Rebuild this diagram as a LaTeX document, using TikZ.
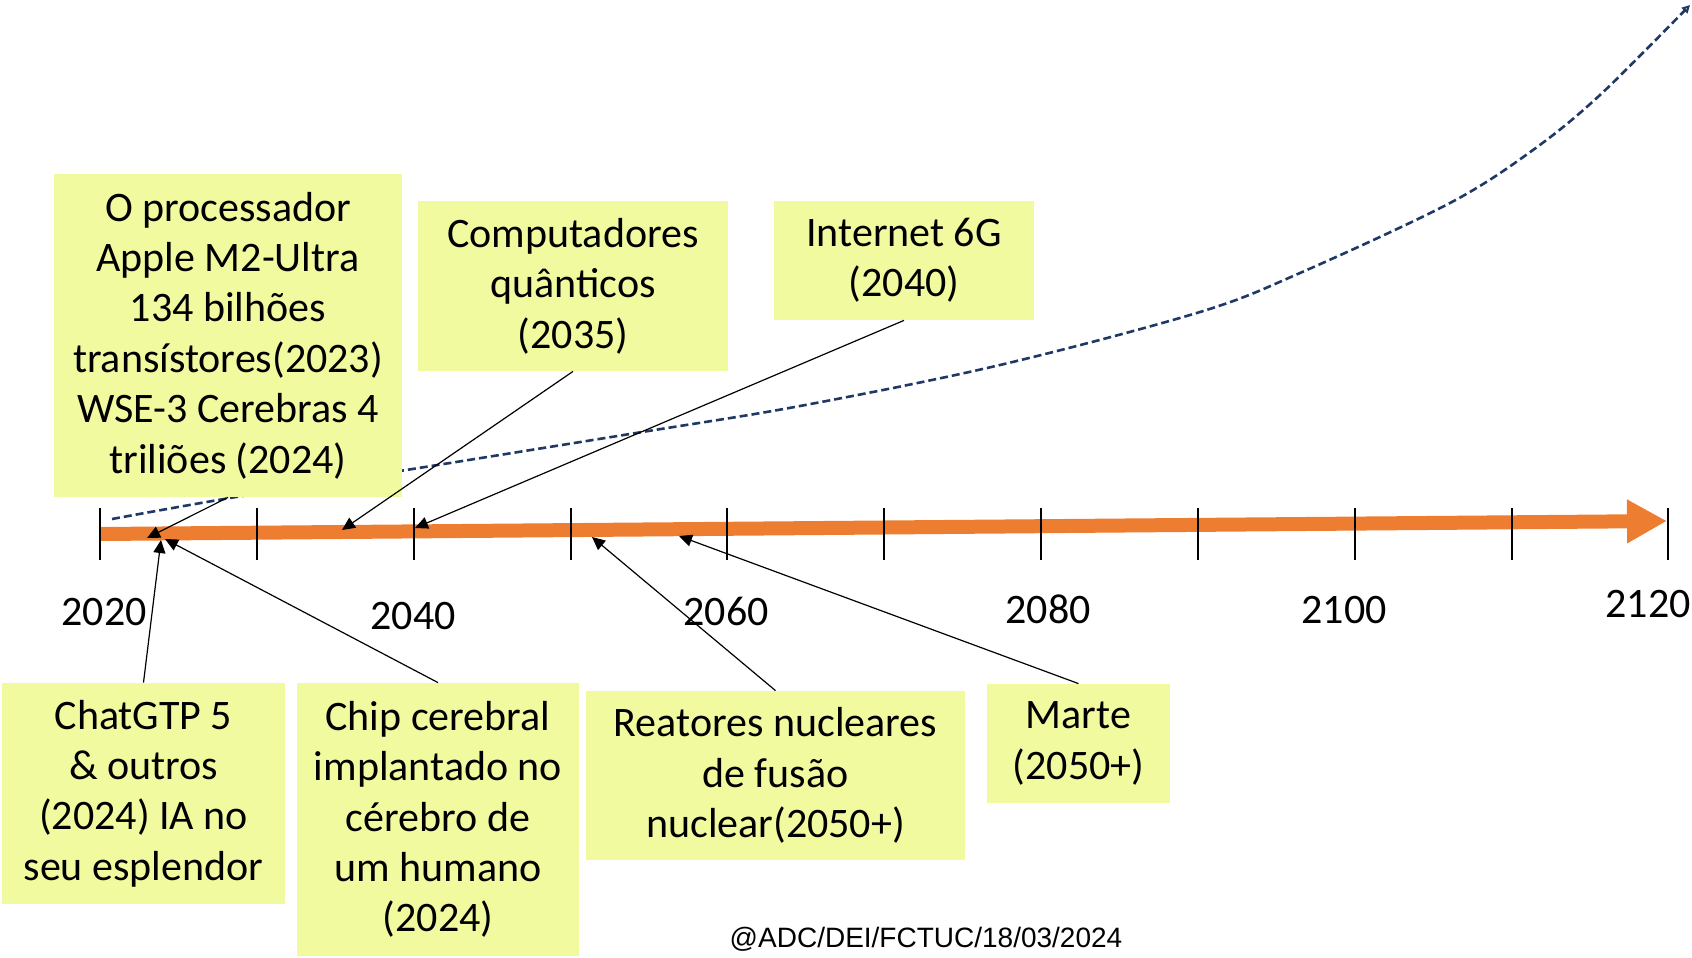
\documentclass[tikz,border=0pt]{standalone}
\usepackage{fontspec}
\setmainfont{Carlito}
\newfontfamily\footfont{Liberation Sans}
\usetikzlibrary{arrows.meta}
\definecolor{notefill}{RGB}{242,250,160}
\definecolor{tlorange}{RGB}{237,125,49}
\definecolor{curvenavy}{RGB}{31,56,100}
\tikzset{
  note/.style={fill=notefill, inner sep=0pt, align=center, font=\fontsize{21pt}{25.2pt}\selectfont},
  yearlbl/.style={anchor=base, inner sep=0pt, font=\fontsize{21pt}{25pt}\selectfont},
  conn/.style={draw=black, line width=0.6pt, -{Triangle[length=6.5pt,width=6pt]}},
  tick/.style={draw=black, line width=0.8pt},
}
\begin{document}
\begin{tikzpicture}[x=0.5pt, y=-0.5pt]
\useasboundingbox (0,0) rectangle (1692,958);

% dashed growth curve (behind boxes)
\draw[curvenavy, line width=1.3pt, dash pattern=on 4pt off 2pt, -{Triangle[open,length=4pt,width=4pt]}]
  plot[smooth, tension=0.55] coordinates {(112,519) (230,498) (400,471) (636,433) (800,406) (1000,365) (1200,312) (1300,273) (1450,203) (1533,150) (1600,95) (1690,5)};

% timeline
\coordinate (tlstart) at (100,534);
\coordinate (tlend) at (1667,521);
\draw[tlorange, line width=7pt, -{Triangle[length=20pt,width=20.5pt]}] (tlstart) -- (tlend);
\foreach \x in {100,257,414,571,727,884,1041,1198,1355,1512,1668}
  \draw[tick] (\x,508) -- (\x,560);

% year labels
\node[yearlbl] (y2020) at (104,625) {2020};
\node[yearlbl] (y2040) at (413,629) {2040};
\node[yearlbl] (y2060) at (726,625) {2060};
\node[yearlbl] (y2080) at (1048,623) {2080};
\node[yearlbl] (y2100) at (1344,623) {2100};
\node[yearlbl] (y2120) at (1648,617) {2120};

% boxes
\node[note, minimum width=174pt, minimum height=161.5pt] (b1) at (228,335.5)
  {O processador\\Apple M2-Ultra\\134 bilhões\\transístores(2023)\\WSE-3 Cerebras 4\\triliões (2024)};
\node[note, minimum width=155pt, minimum height=85pt] (b2) at (573,286)
  {Computadores\\quânticos\\(2035)};
\node[note, minimum width=130pt, minimum height=59.5pt] (b3) at (904,260.5)
  {Internet 6G\\(2040)};
\node[note, minimum width=141.5pt, minimum height=110.5pt] (b4) at (143.5,793.5)
  {ChatGTP 5\\\& outros\\(2024) IA no\\seu esplendor};
\node[note, minimum width=141pt, minimum height=136.5pt] (b5) at (438,819.5)
  {Chip cerebral\\implantado no\\cérebro de\\um humano\\(2024)};
\node[note, minimum width=189.5pt, minimum height=84.5pt] (b6) at (775.5,775.5)
  {Reatores nucleares\\de fusão\\nuclear(2050+)};
\node[note, minimum width=91.5pt, minimum height=59.5pt] (b7) at (1078.5,743.5)
  {Marte\\(2050+)};

% arrow targets on the timeline
\coordinate (t1) at (147,538);
\coordinate (t2) at (342,530);
\coordinate (t3) at (415,528);
\coordinate (t4) at (161,540);
\coordinate (t5) at (165,539);
\coordinate (t6) at (592,537);
\coordinate (t7) at (679,536);

\draw[conn] (b1.south) -- (t1);
\draw[conn] (b2.south) -- (t2);
\draw[conn] (b3.south) -- (t3);
\draw[conn] (b4.north) -- (t4);
\draw[conn] (b5.north) -- (t5);
\draw[conn] (b6.north) -- (t6);
\draw[conn] (b7.north) -- (t7);

% footer
\node[anchor=base, inner sep=0pt, font=\footfont\fontsize{14pt}{17pt}\selectfont] (foot) at (926,947) {@ADC/DEI/FCTUC/18/03/2024};
\end{tikzpicture}
\end{document}
